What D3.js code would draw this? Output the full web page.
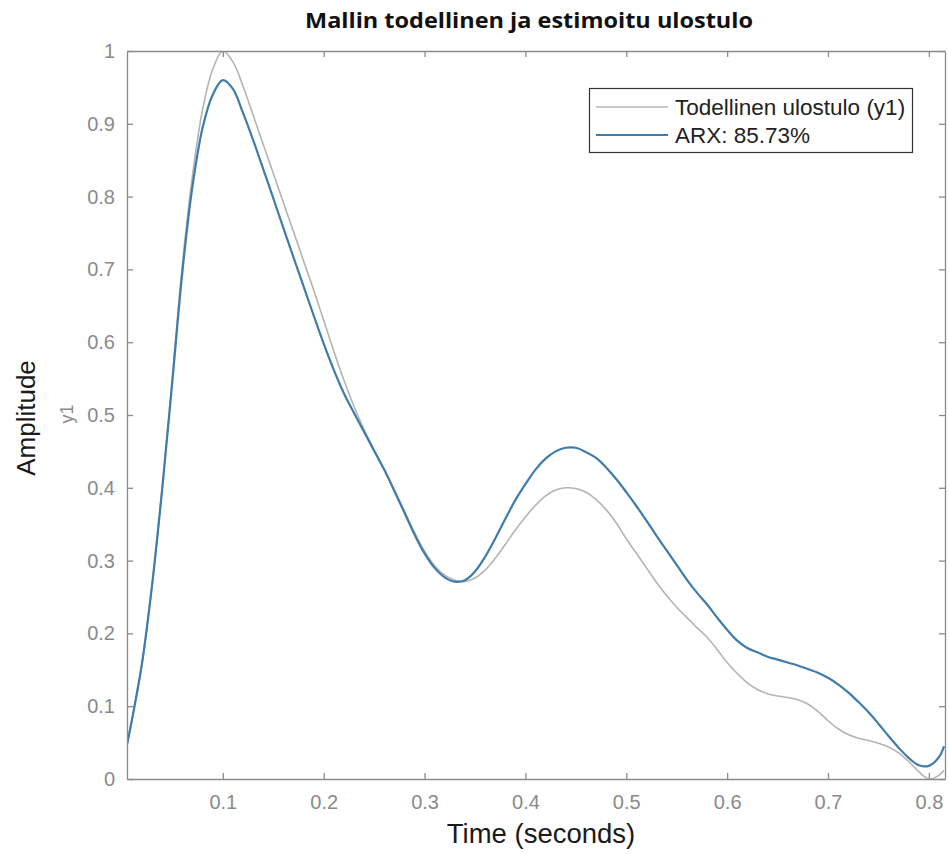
<!DOCTYPE html>
<html>
<head>
<meta charset="utf-8">
<script src="https://cdn.jsdelivr.net/npm/d3@7"></script>
<style>
  html, body { margin: 0; padding: 0; background: #ffffff; }
  svg { display: block; }
</style>
</head>
<body>
<svg id="chart" width="949" height="854"></svg>
<script>
// Sample times (s)
const time = [0.005, 0.01, 0.02, 0.03, 0.04, 0.05, 0.06, 0.07, 0.08, 0.09,
  0.10, 0.11, 0.12, 0.13, 0.14, 0.15, 0.16, 0.17, 0.18, 0.19,
  0.20, 0.21, 0.22, 0.23, 0.24, 0.25, 0.26, 0.27, 0.28, 0.29,
  0.30, 0.31, 0.32, 0.33, 0.34, 0.35, 0.36, 0.37, 0.38, 0.39,
  0.40, 0.41, 0.42, 0.43, 0.44, 0.45, 0.46, 0.47, 0.48, 0.49,
  0.50, 0.51, 0.52, 0.53, 0.54, 0.55, 0.56, 0.57, 0.58, 0.59,
  0.60, 0.61, 0.62, 0.63, 0.64, 0.65, 0.66, 0.67, 0.68, 0.69,
  0.70, 0.71, 0.72, 0.73, 0.74, 0.75, 0.76, 0.77, 0.78, 0.79,
  0.80, 0.81, 0.815];

// Measured system output y1
const measured = [0.047, 0.082, 0.16, 0.268, 0.4, 0.552, 0.708, 0.83, 0.92, 0.975,
  1.0, 0.985, 0.952, 0.912, 0.872, 0.832, 0.792, 0.752, 0.712, 0.672,
  0.63, 0.588, 0.548, 0.512, 0.48, 0.452, 0.425, 0.397, 0.368, 0.339,
  0.313, 0.293, 0.28, 0.273, 0.271, 0.276, 0.287, 0.303, 0.322, 0.342,
  0.36, 0.376, 0.389, 0.397, 0.4, 0.399, 0.394, 0.384, 0.37, 0.352,
  0.33, 0.31, 0.29, 0.27, 0.252, 0.236, 0.222, 0.208, 0.195, 0.178,
  0.16, 0.145, 0.132, 0.123, 0.117, 0.114, 0.112, 0.109, 0.103, 0.093,
  0.08, 0.069, 0.061, 0.056, 0.053, 0.049, 0.044, 0.036, 0.024, 0.01,
  0.0, 0.005, 0.012];

// ARX model simulated output
const arx = [0.047, 0.082, 0.16, 0.268, 0.4, 0.547, 0.698, 0.815, 0.895, 0.94,
  0.96, 0.948, 0.915, 0.878, 0.838, 0.798, 0.757, 0.717, 0.677, 0.637,
  0.598, 0.562, 0.53, 0.503, 0.477, 0.451, 0.425, 0.396, 0.366, 0.336,
  0.31, 0.29, 0.277, 0.271, 0.273, 0.285, 0.305, 0.33, 0.357, 0.383,
  0.405, 0.425, 0.44, 0.45, 0.455, 0.455, 0.449, 0.441, 0.428, 0.412,
  0.394, 0.375, 0.355, 0.334, 0.314, 0.294, 0.274, 0.256, 0.24, 0.222,
  0.205, 0.19, 0.18, 0.174, 0.168, 0.164, 0.16, 0.156, 0.151, 0.146,
  0.139, 0.13, 0.119, 0.106, 0.092, 0.076, 0.059, 0.043, 0.029, 0.019,
  0.018, 0.03, 0.045];

const xTicks = [0.1, 0.2, 0.3, 0.4, 0.5, 0.6, 0.7, 0.8];
const yTicks = [0, 0.1, 0.2, 0.3, 0.4, 0.5, 0.6, 0.7, 0.8, 0.9, 1];
const seriesNames = ["Todellinen ulostulo (y1)", "ARX: 85.73%"];
const seriesColors = ["#b4b4b4", "#3f7cab"];

const svg = d3.select("#chart");
const plotLeft = 127, plotRight = 945, plotTop = 51, plotBottom = 779;
const axisColor = "#8a8a8a";
const tickColor = "#8a8a8a";
const sans = "'Liberation Sans', Arial, Helvetica, sans-serif";

const x = d3.scaleLinear().domain([0.005, 0.816]).range([plotLeft, plotRight]);
const y = d3.scaleLinear().domain([0, 1]).range([plotBottom, plotTop]);

// Title
svg.append("text")
  .attr("x", 529).attr("y", 28)
  .attr("text-anchor", "middle")
  .attr("font-family", "'Open Sans', 'Noto Sans', sans-serif")
  .attr("font-weight", "bold")
  .attr("font-size", 22)
  .attr("textLength", 448)
  .attr("lengthAdjust", "spacingAndGlyphs")
  .attr("fill", "#111")
  .text("Mallin todellinen ja estimoitu ulostulo");

// Lines, clipped to the axes box
svg.append("clipPath").attr("id", "plotclip")
  .append("rect").attr("x", plotLeft).attr("y", plotTop)
  .attr("width", plotRight - plotLeft).attr("height", plotBottom - plotTop);

const line = d3.line().x(d => x(d[0])).y(d => y(d[1])).curve(d3.curveCatmullRom.alpha(0.5));
const plot = svg.append("g").attr("clip-path", "url(#plotclip)");
[measured, arx].forEach((vals, i) => {
  plot.append("path")
    .datum(time.map((t, j) => [t, vals[j]]))
    .attr("fill", "none")
    .attr("stroke", seriesColors[i])
    .attr("stroke-width", i === 0 ? 1.6 : 2.2)
    .attr("stroke-linejoin", "round")
    .attr("d", line);
});

// Axes with inward ticks on all four sides
function styleAxis(g) {
  g.selectAll("path.domain").attr("stroke", axisColor).attr("stroke-width", 1.3);
  g.selectAll(".tick line").attr("stroke", axisColor).attr("stroke-width", 1.3);
  g.selectAll(".tick text").attr("fill", tickColor)
    .attr("font-family", sans).attr("font-size", 20);
}

svg.append("g").attr("transform", `translate(0,${plotBottom})`)
  .call(d3.axisBottom(x).tickValues(xTicks).tickFormat(d3.format("")).tickSizeInner(-6).tickSizeOuter(0).tickPadding(16))
  .call(styleAxis);
svg.append("g").attr("transform", `translate(0,${plotTop})`)
  .call(d3.axisTop(x).tickValues(xTicks).tickFormat("").tickSizeInner(-6).tickSizeOuter(0))
  .call(styleAxis);
svg.append("g").attr("transform", `translate(${plotLeft},0)`)
  .call(d3.axisLeft(y).tickValues(yTicks).tickFormat(d3.format("")).tickSizeInner(-6).tickSizeOuter(0).tickPadding(12))
  .call(styleAxis);
svg.append("g").attr("transform", `translate(${plotRight},0)`)
  .call(d3.axisRight(y).tickValues(yTicks).tickFormat("").tickSizeInner(-6).tickSizeOuter(0))
  .call(styleAxis);

// Axis labels
svg.append("text")
  .attr("x", 541).attr("y", 843)
  .attr("text-anchor", "middle")
  .attr("font-family", sans).attr("font-size", 27.5).attr("fill", "#1a1a1a")
  .text("Time (seconds)");
svg.append("text")
  .attr("transform", `translate(35,${(plotTop + plotBottom) / 2 + 3}) rotate(-90)`)
  .attr("text-anchor", "middle")
  .attr("font-family", sans).attr("font-size", 26).attr("fill", "#1a1a1a")
  .text("Amplitude");
svg.append("text")
  .attr("transform", `translate(73,${(plotTop + plotBottom) / 2 - 1}) rotate(-90)`)
  .attr("text-anchor", "middle")
  .attr("font-family", sans).attr("font-size", 18).attr("fill", "#8a8a8a")
  .text("y1");

// Legend
const lg = svg.append("g");
lg.append("rect").attr("x", 589.5).attr("y", 88.5).attr("width", 323).attr("height", 64)
  .attr("fill", "#fff").attr("stroke", "#333").attr("stroke-width", 1.2);
seriesNames.forEach((name, i) => {
  const ly = 107 + i * 28;
  lg.append("line").attr("x1", 596).attr("x2", 668).attr("y1", ly).attr("y2", ly)
    .attr("stroke", seriesColors[i]).attr("stroke-width", i === 0 ? 1.6 : 2.2);
  lg.append("text").attr("x", 675).attr("y", ly).attr("dy", "0.35em")
    .attr("font-family", sans).attr("font-size", 22.5).attr("fill", "#222")
    .text(name);
});
</script>
</body>
</html>
